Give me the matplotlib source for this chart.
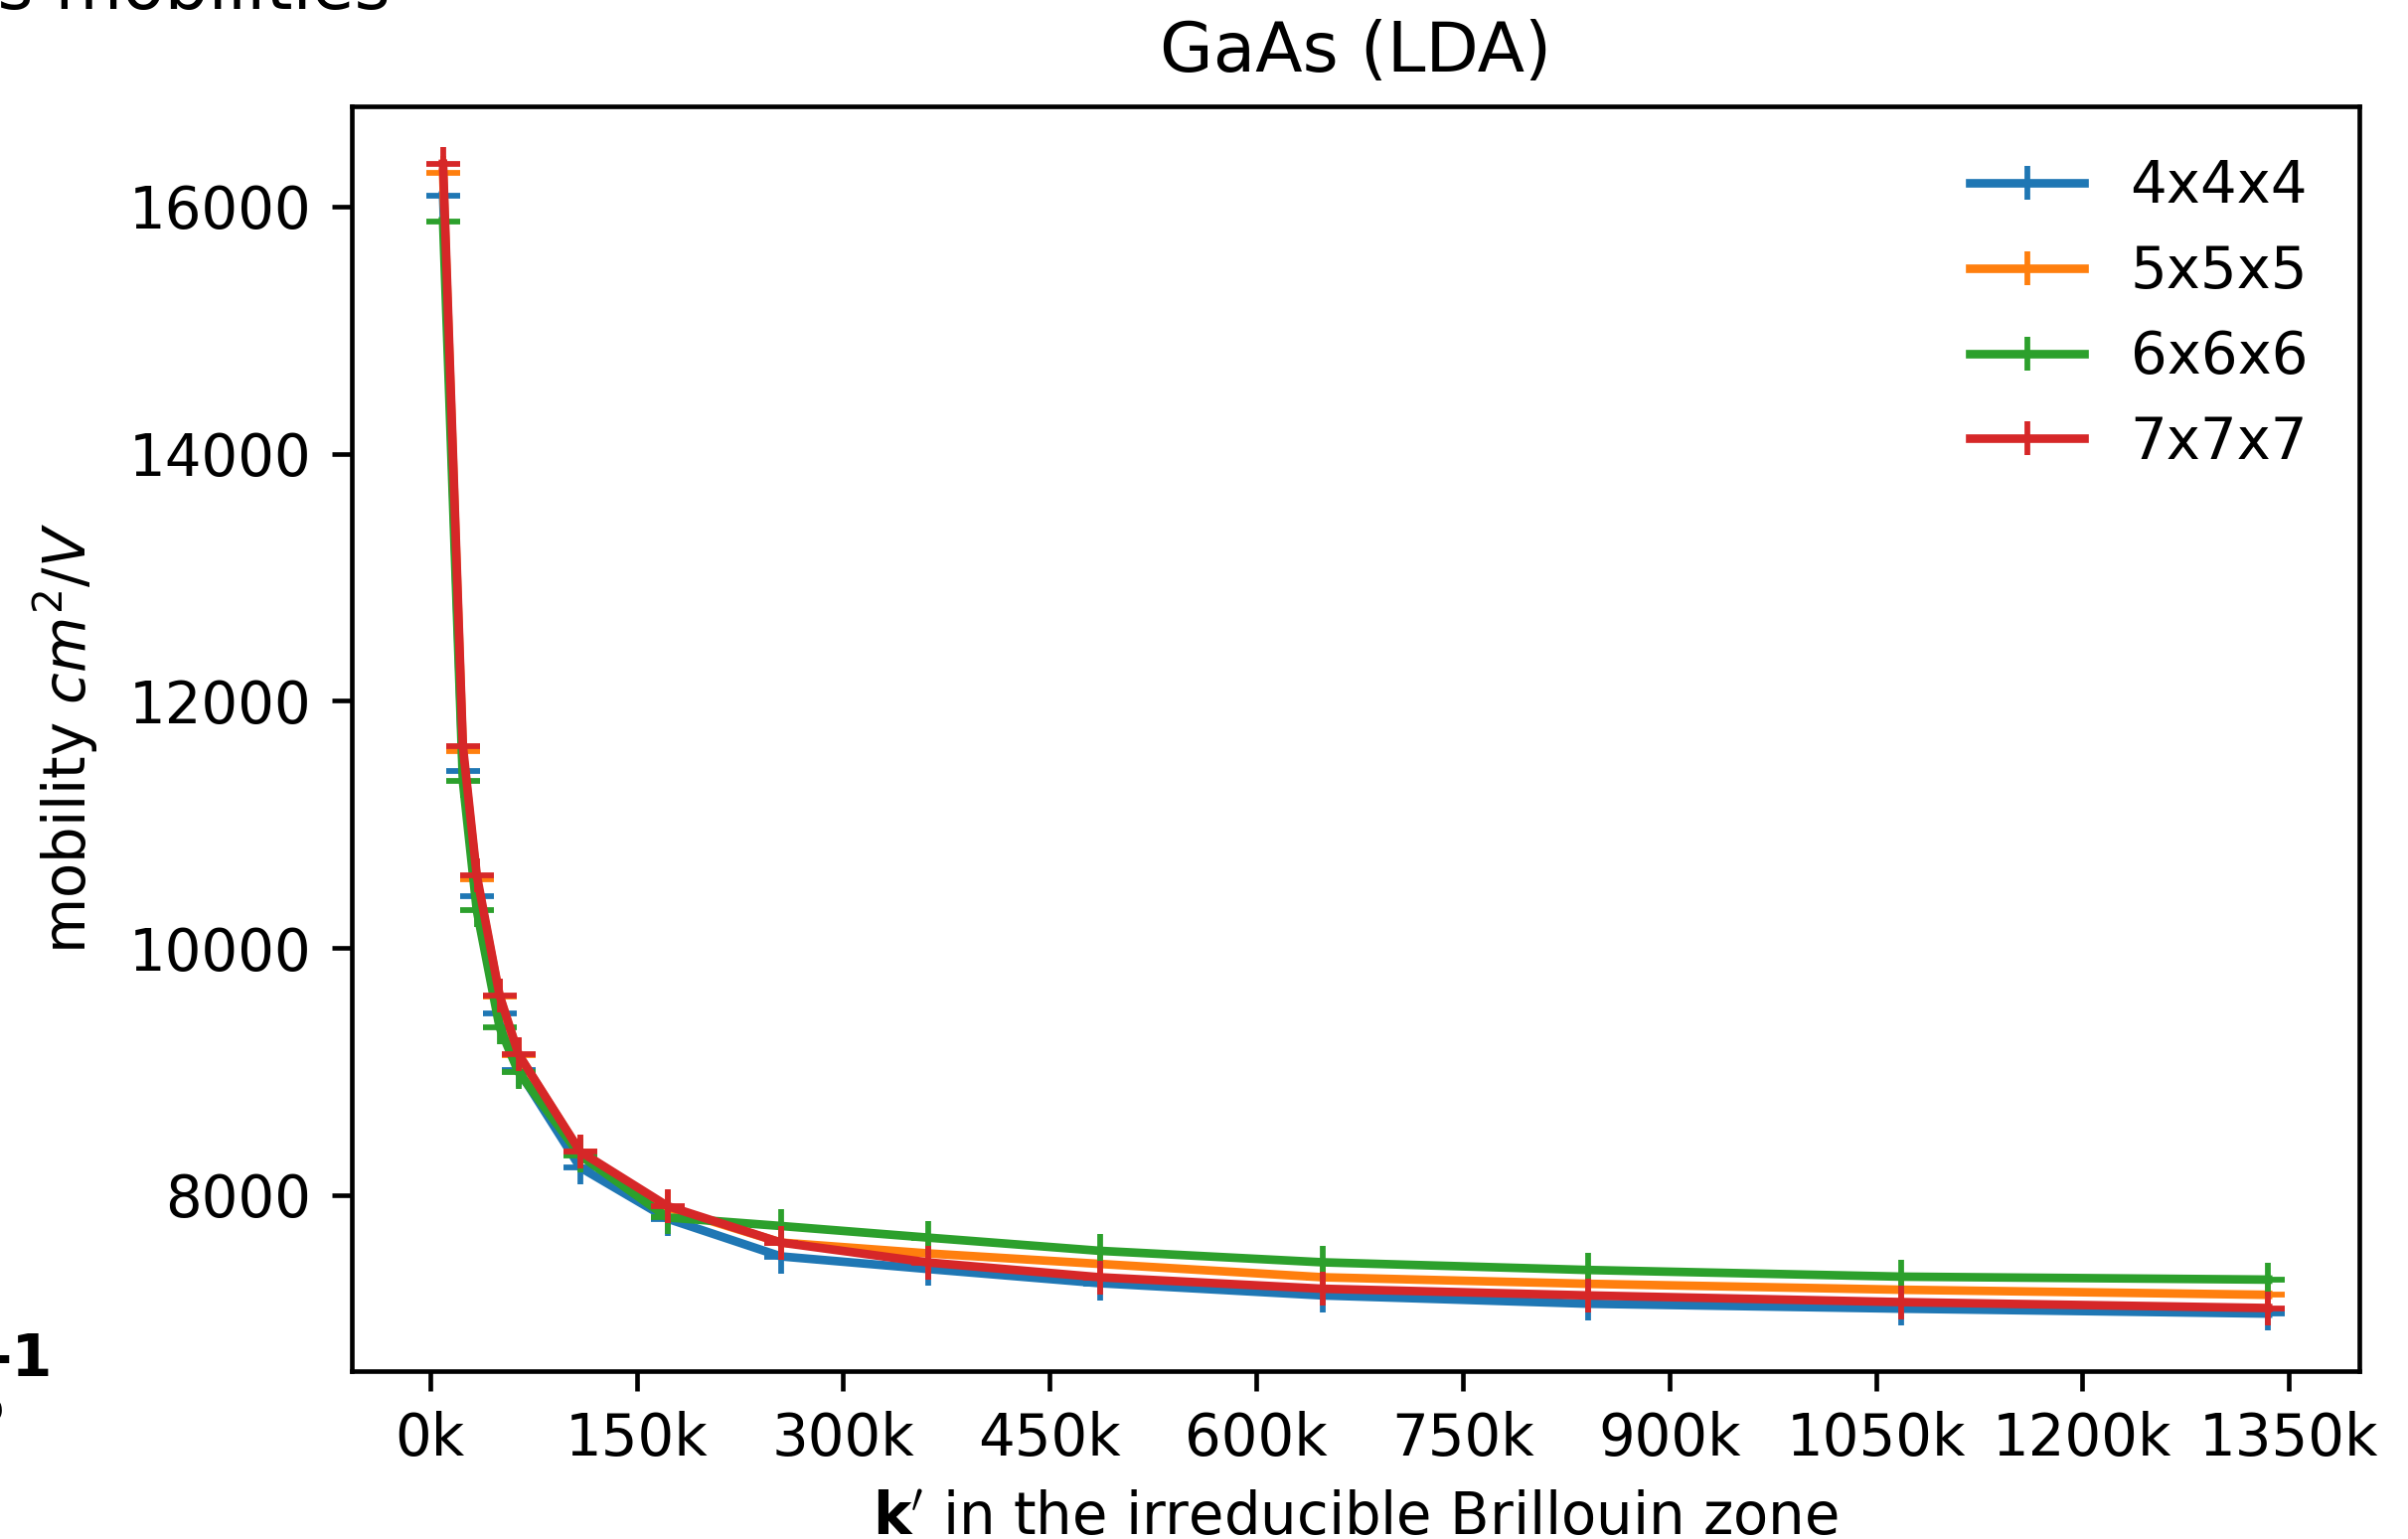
import matplotlib
matplotlib.use("Agg")
import matplotlib.pyplot as plt
from matplotlib.ticker import FuncFormatter

# number of k' points in the irreducible BZ (shared by all grids)
kpoints = [9400, 23800, 33900, 50500, 64200, 109000, 172400, 254700,
           361500, 486300, 648300, 840900, 1068500, 1334800]

# mobility values (cm^2/Vs)
mob_444 = [16088, 11430, 10418, 9470, 9012, 8225, 7810, 7505,
           7403, 7288, 7189, 7122, 7082, 7042]
mob_555 = [16273, 11590, 10554, 9606, 9133, 8350, 7900, 7617,
           7529, 7444, 7336, 7283, 7235, 7194]
mob_666 = [15880, 11349, 10305, 9357, 8996, 8321, 7820, 7751,
           7657, 7550, 7457, 7395, 7341, 7317]
mob_777 = [16345, 11631, 10586, 9614, 9141, 8353, 7912, 7617,
           7456, 7336, 7243, 7189, 7135, 7087]

series = [("4x4x4", mob_444), ("5x5x5", mob_555),
          ("6x6x6", mob_666), ("7x7x7", mob_777)]

xtick_vals = [0, 150000, 300000, 450000, 600000, 750000, 900000,
              1050000, 1200000, 1350000]

W, H, DPI = 2423, 1549, 416

fig = plt.figure(figsize=(W / DPI, H / DPI), dpi=DPI)
fig.patch.set_facecolor("white")

# axes box placed to match the cropped reference
left, right, top, bottom = 354, 2374, 107, 1380
ax = fig.add_axes([left / W, 1 - bottom / H, (right - left) / W, (bottom - top) / H])

for name, vals in series:
    ax.plot(kpoints, vals, marker="+", label=name)

ax.set_xticks(xtick_vals)
ax.xaxis.set_major_formatter(FuncFormatter(lambda v, pos: f"{int(round(v / 1000))}k"))

ax.set_title("GaAs (LDA)")
ax.set_xlabel(r"$\mathbf{k}'$ in the irreducible Brillouin zone")
ax.set_ylabel(r"mobility $cm^2/V$", labelpad=5)
ax.legend(frameon=False, loc="upper right")

# bits of neighbouring text that were cut by the crop
fig.text(393 / W, 1 - 9 / H, "Electrons mobilities", ha="right", va="baseline",
         fontsize=12)
fig.text(53 / W, 1 - 1385 / H, "-1", ha="right", va="baseline",
         fontsize=10.2, fontweight="bold")
fig.text(5 / W, 1 - 1433 / H, "s", ha="right", va="baseline",
         fontsize=14.5, fontweight="bold")

fig.savefig("out.png", dpi=DPI, facecolor="white")
